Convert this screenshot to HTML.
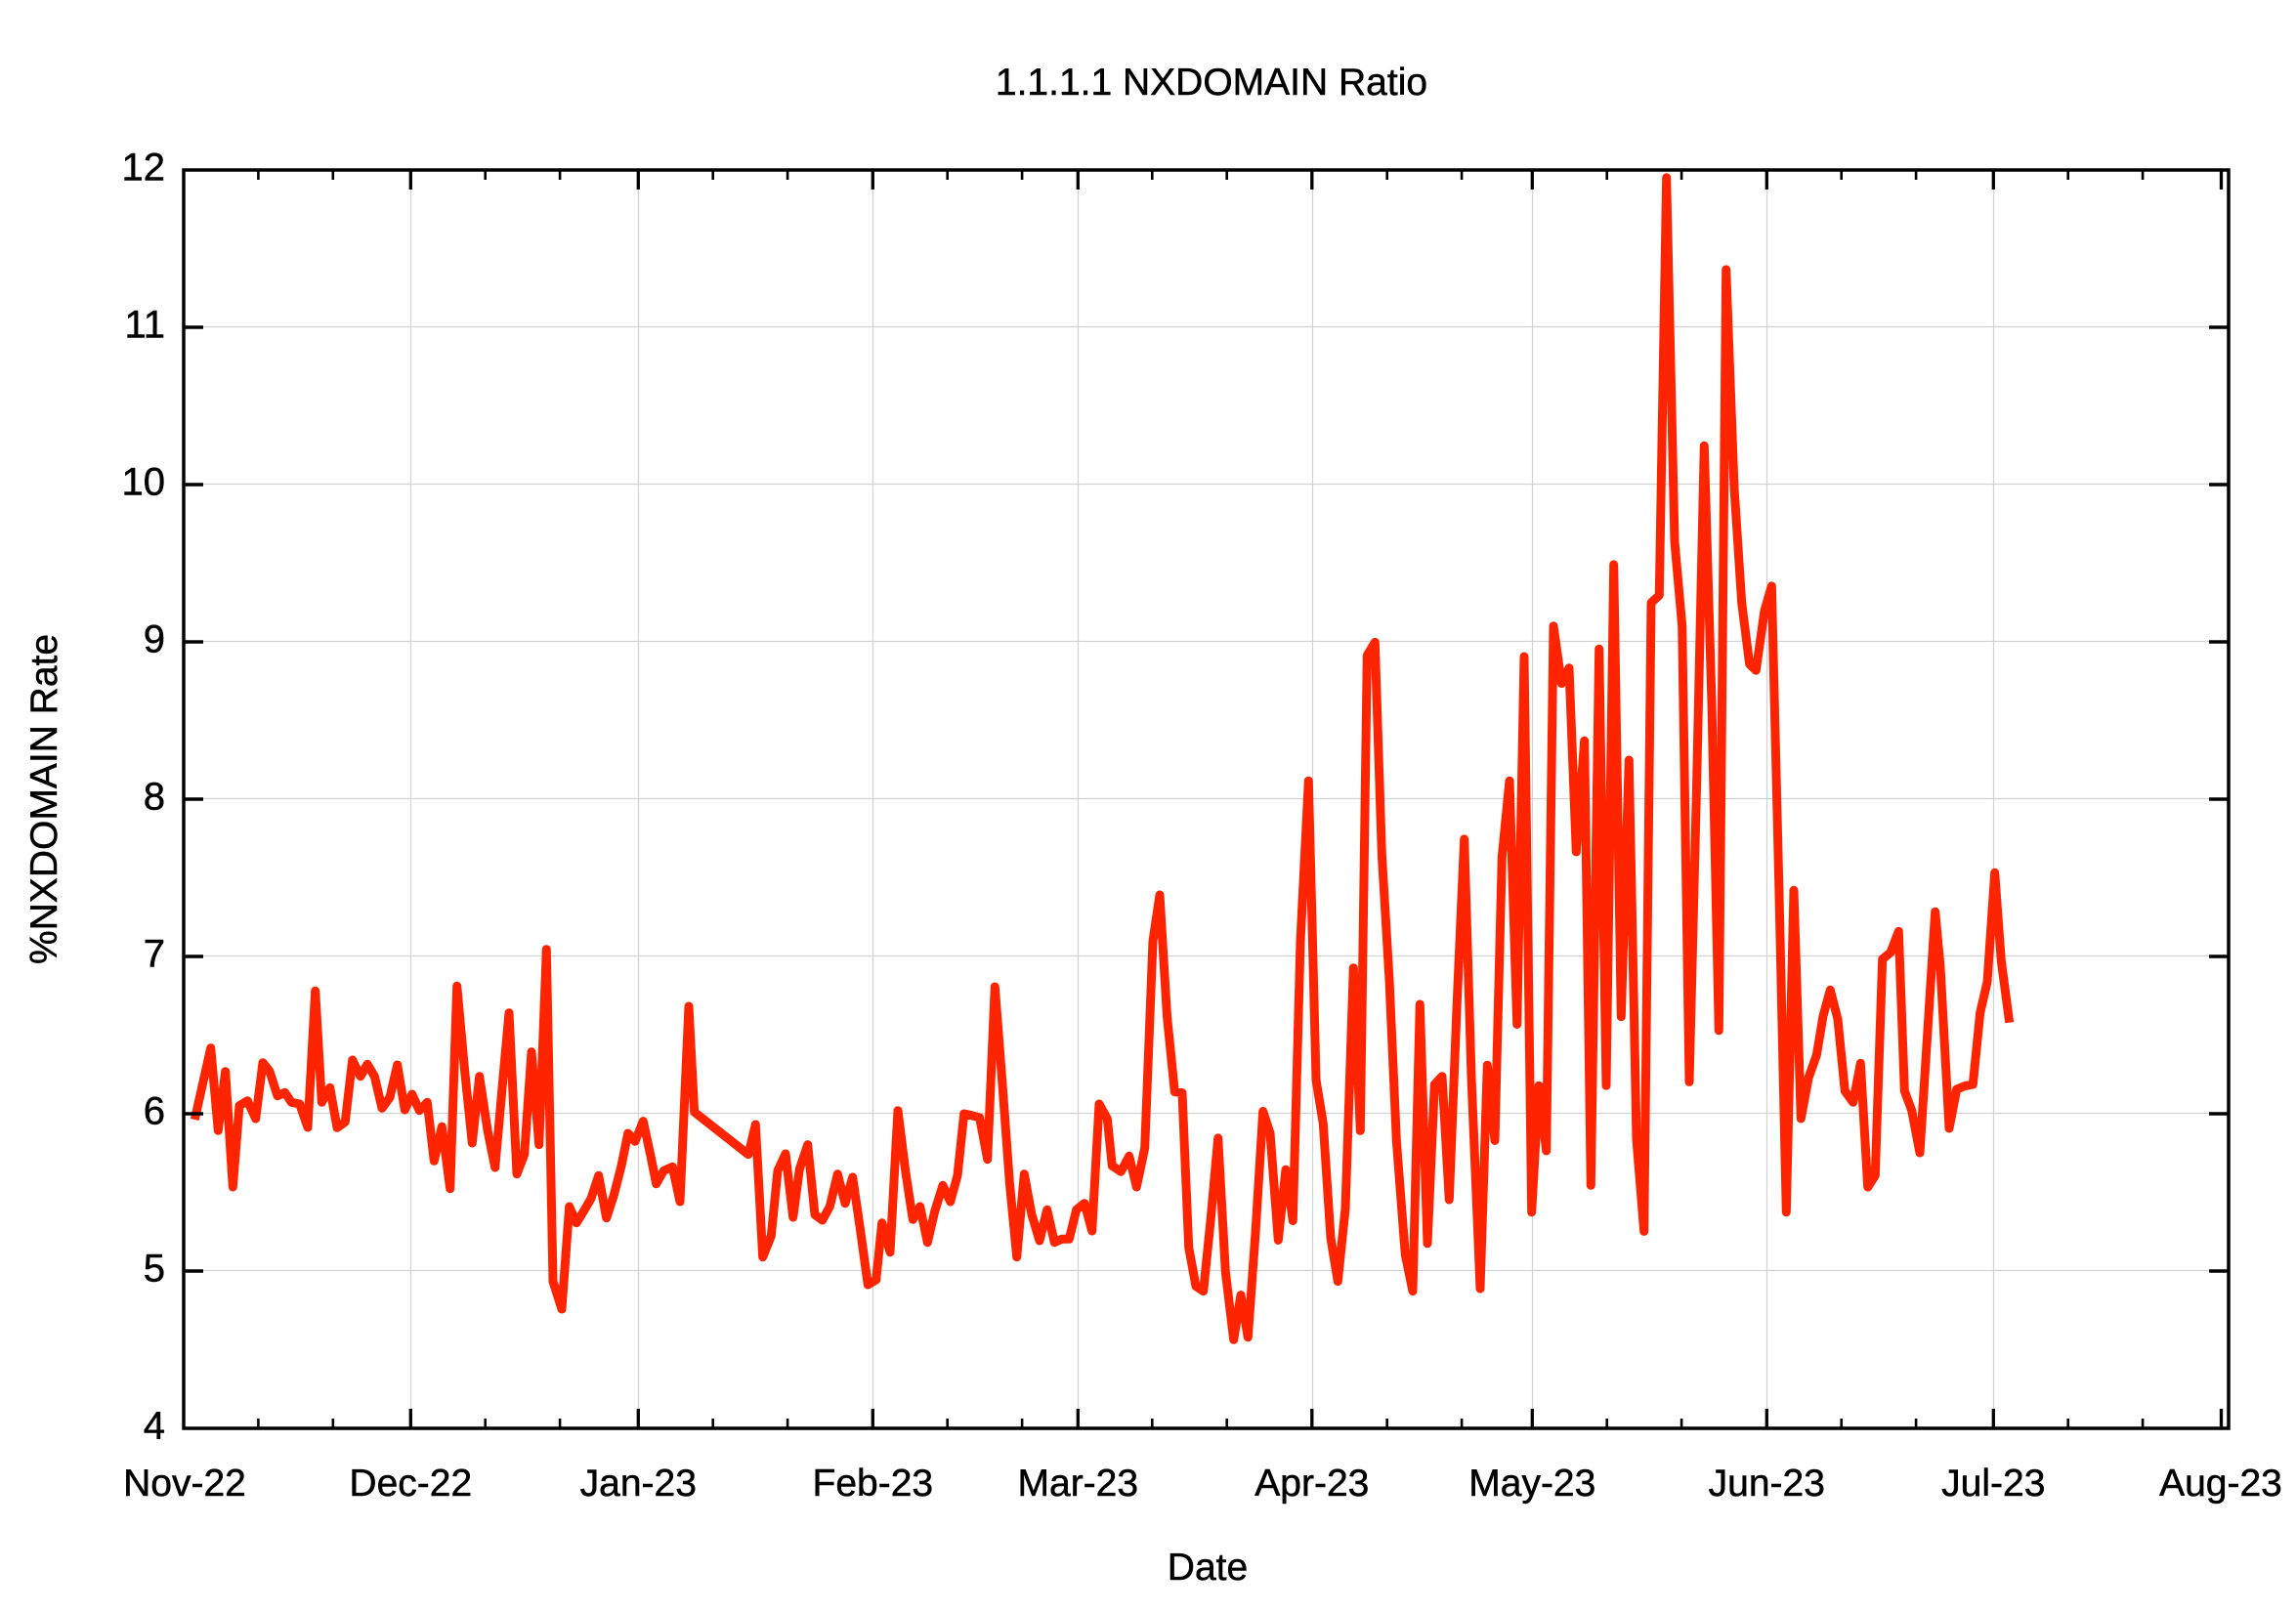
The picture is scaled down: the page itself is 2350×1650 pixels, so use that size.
<!DOCTYPE html>
<html>
<head>
<meta charset="utf-8">
<style>
  html, body { margin: 0; padding: 0; background: #ffffff; }
  svg { display: block; }
  text { font-family: "Liberation Sans", Arial, Helvetica, sans-serif; fill: #000; stroke: #000; stroke-width: 0.5px; }
</style>
</head>
<body>
<svg width="2350" height="1650" viewBox="0 0 2350 1650" xmlns="http://www.w3.org/2000/svg">
  <rect x="0" y="0" width="2350" height="1650" fill="#ffffff"/>

  <!-- grid -->
  <g stroke="#d2d2d2" stroke-width="1.2" fill="none">
    <line x1="188" y1="334.5" x2="2281" y2="334.5"/>
    <line x1="188" y1="495.5" x2="2281" y2="495.5"/>
    <line x1="188" y1="656.5" x2="2281" y2="656.5"/>
    <line x1="188" y1="817.5" x2="2281" y2="817.5"/>
    <line x1="188" y1="978.5" x2="2281" y2="978.5"/>
    <line x1="188" y1="1139.5" x2="2281" y2="1139.5"/>
    <line x1="188" y1="1300.5" x2="2281" y2="1300.5"/>
    <line x1="420.5" y1="174" x2="420.5" y2="1462"/>
    <line x1="653.5" y1="174" x2="653.5" y2="1462"/>
    <line x1="893.5" y1="174" x2="893.5" y2="1462"/>
    <line x1="1103.5" y1="174" x2="1103.5" y2="1462"/>
    <line x1="1343.5" y1="174" x2="1343.5" y2="1462"/>
    <line x1="1568.5" y1="174" x2="1568.5" y2="1462"/>
    <line x1="1808.5" y1="174" x2="1808.5" y2="1462"/>
    <line x1="2040.5" y1="174" x2="2040.5" y2="1462"/>
  </g>

  <!-- data -->
  <polyline fill="none" stroke="#ff2400" stroke-width="9" stroke-linejoin="round" stroke-linecap="butt"
    points="199.3,1146 215.7,1072.7 223.3,1157.3 230.7,1096.7 238.3,1215 245,1131.7 253.3,1126.7 261.7,1145 269,1087.7 276,1096.7 284,1121.7 291.7,1118.3 298.3,1128.3 306.7,1130 315,1154 322.7,1014.3 329.3,1128.3 337.7,1113.3 345,1154.3 353.3,1148.3 360.7,1085 369,1101.7 376,1089.3 383.3,1101.7 391,1134.3 399,1123.3 406.7,1090 414.3,1136 421.7,1120 429.3,1136.7 437.3,1128.3 444.3,1188.3 452.3,1153.3 460.7,1216.7 467.7,1009.3 475.7,1096.7 483.3,1170 490.7,1101.7 499,1156.7 506.7,1195 514,1113.3 521,1036.7 529,1201.7 536.7,1181.7 544,1076.7 551.7,1171.7 559.3,971.7 566,1311.7 575,1340 582.7,1235 590,1251.7 597.3,1240 605,1226.7 612.7,1203.3 620.7,1246.7 628.3,1223.3 636,1193.3 642.7,1160 650,1168.3 658.3,1147.7 666,1183.3 671.7,1211.7 679.3,1198.3 688.3,1194.3 696,1230 705,1030 710.7,1138.3 766,1181.7 773.3,1151 780.7,1286.7 789.3,1265 796,1198.3 804,1181 811.7,1246 818.3,1196.7 826.7,1171.7 834,1243.3 841.7,1249 849.3,1235 857.3,1201.7 865,1231.7 872.7,1205 880.7,1260 888.3,1315 896.7,1310 902.7,1251.7 911,1281.7 919,1136.7 926.7,1198.3 934.3,1248.3 941.7,1235 949.3,1271.7 956.7,1240 965,1213.3 972.7,1230 980,1203.3 986.7,1140 994.3,1141.7 1002.7,1144 1010.7,1186.7 1018.3,1010 1026,1110 1033.3,1210 1040.7,1286.7 1048.3,1201.7 1056,1243.3 1064,1270 1071.7,1238.3 1079.3,1271.7 1086.7,1268.3 1094.3,1268.3 1101.7,1238.3 1110,1231.7 1117.7,1260 1125,1130 1133.3,1145 1138.3,1193.3 1147.3,1199.3 1155.7,1183.3 1163.3,1215 1171.7,1175 1180,963.3 1187,916 1194.5,1040 1202.3,1117.6 1210,1118.6 1216.7,1276.8 1224,1316.6 1231.7,1321.6 1239.3,1247 1246.7,1164.9 1254.3,1301.7 1262.7,1371.3 1270,1325.6 1277.3,1368.8 1285,1261.9 1292.7,1137.5 1300,1159.9 1308.3,1269.4 1316,1197.2 1323.3,1249.5 1331,963.4 1339.3,799.2 1347,1105.2 1354.3,1150 1362,1266.9 1369.3,1311.6 1377,1237 1385.3,990.7 1392.3,1157.4 1399.3,670.8 1407.3,657.4 1414.3,873.8 1422,1003.2 1429.3,1167.4 1438.3,1284.3 1446,1321.6 1453.3,1028 1461,1272.8 1468.3,1110.1 1476,1101.7 1483.3,1228 1491,1033 1498.7,858.9 1506,1102.7 1515,1319.1 1522.3,1090.2 1530,1167.4 1537.3,877.3 1545,799.2 1552.7,1048.5 1560,672 1567.7,1240.8 1575,1111.3 1582.7,1178 1590,640.7 1598.3,699.5 1606,683.8 1613.3,872 1621.7,758.3 1628.3,1213.3 1636.7,664.2 1644,1111.3 1651.7,577.9 1659.3,1040.7 1667.3,778 1675,1166 1682.7,1260.4 1690,617 1698.3,609.3 1705.7,181.8 1714,554.4 1721.7,640.7 1729,1107.4 1736.7,797.6 1744.3,456.3 1752,719.1 1759.3,1054.9 1766.7,275.9 1775,499.5 1782.7,617.1 1790.7,679.9 1797.3,686.2 1806,625 1813.3,599.9 1821,915.2 1828.3,1240.8 1836,911.3 1843.3,1145 1851,1103.5 1859.3,1080 1866,1040 1873.3,1013.3 1881,1043.3 1888.3,1116.7 1896.7,1128.3 1904.3,1088.3 1911.7,1215 1919.3,1203.3 1926.7,981.7 1935,975 1943.3,953.3 1949.3,1116.7 1956.7,1136.7 1965,1180 1973.3,1050 1980.7,933.3 1986,990 1995,1155 2002.7,1115 2010.7,1111.7 2019.3,1110 2026.7,1036.7 2034,1005 2041.7,893.3 2048.3,983.3 2056.7,1046.7"/>

  <!-- ticks -->
  <g stroke="#000" stroke-width="3.5" fill="none">
    <line x1="188" y1="335" x2="208" y2="335"/><line x1="2261" y1="335" x2="2281" y2="335"/>
    <line x1="188" y1="496" x2="208" y2="496"/><line x1="2261" y1="496" x2="2281" y2="496"/>
    <line x1="188" y1="657" x2="208" y2="657"/><line x1="2261" y1="657" x2="2281" y2="657"/>
    <line x1="188" y1="818" x2="208" y2="818"/><line x1="2261" y1="818" x2="2281" y2="818"/>
    <line x1="188" y1="979" x2="208" y2="979"/><line x1="2261" y1="979" x2="2281" y2="979"/>
    <line x1="188" y1="1140" x2="208" y2="1140"/><line x1="2261" y1="1140" x2="2281" y2="1140"/>
    <line x1="188" y1="1301" x2="208" y2="1301"/><line x1="2261" y1="1301" x2="2281" y2="1301"/>
  </g>
  <g stroke="#000" stroke-width="3.3" fill="none">
    <line x1="420.3" y1="1462" x2="420.3" y2="1442"/><line x1="420.3" y1="174" x2="420.3" y2="194"/>
    <line x1="653.3" y1="1462" x2="653.3" y2="1442"/><line x1="653.3" y1="174" x2="653.3" y2="194"/>
    <line x1="893.3" y1="1462" x2="893.3" y2="1442"/><line x1="893.3" y1="174" x2="893.3" y2="194"/>
    <line x1="1103.3" y1="1462" x2="1103.3" y2="1442"/><line x1="1103.3" y1="174" x2="1103.3" y2="194"/>
    <line x1="1342.8" y1="1462" x2="1342.8" y2="1442"/><line x1="1342.8" y1="174" x2="1342.8" y2="194"/>
    <line x1="1568.3" y1="1462" x2="1568.3" y2="1442"/><line x1="1568.3" y1="174" x2="1568.3" y2="194"/>
    <line x1="1808.3" y1="1462" x2="1808.3" y2="1442"/><line x1="1808.3" y1="174" x2="1808.3" y2="194"/>
    <line x1="2040.3" y1="1462" x2="2040.3" y2="1442"/><line x1="2040.3" y1="174" x2="2040.3" y2="194"/>
    <line x1="2273.5" y1="1462" x2="2273.5" y2="1442"/><line x1="2273.5" y1="174" x2="2273.5" y2="194"/>
  </g>
  <g stroke="#000" stroke-width="2.6" fill="none">
    <line x1="264.4" y1="1462" x2="264.4" y2="1452"/><line x1="264.4" y1="174" x2="264.4" y2="184"/>
    <line x1="340.8" y1="1462" x2="340.8" y2="1452"/><line x1="340.8" y1="174" x2="340.8" y2="184"/>
    <line x1="496.7" y1="1462" x2="496.7" y2="1452"/><line x1="496.7" y1="174" x2="496.7" y2="184"/>
    <line x1="573.1" y1="1462" x2="573.1" y2="1452"/><line x1="573.1" y1="174" x2="573.1" y2="184"/>
    <line x1="729.7" y1="1462" x2="729.7" y2="1452"/><line x1="729.7" y1="174" x2="729.7" y2="184"/>
    <line x1="806.1" y1="1462" x2="806.1" y2="1452"/><line x1="806.1" y1="174" x2="806.1" y2="184"/>
    <line x1="969.7" y1="1462" x2="969.7" y2="1452"/><line x1="969.7" y1="174" x2="969.7" y2="184"/>
    <line x1="1046.1" y1="1462" x2="1046.1" y2="1452"/><line x1="1046.1" y1="174" x2="1046.1" y2="184"/>
    <line x1="1179.3" y1="1462" x2="1179.3" y2="1452"/><line x1="1179.3" y1="174" x2="1179.3" y2="184"/>
    <line x1="1255.7" y1="1462" x2="1255.7" y2="1452"/><line x1="1255.7" y1="174" x2="1255.7" y2="184"/>
    <line x1="1419.7" y1="1462" x2="1419.7" y2="1452"/><line x1="1419.7" y1="174" x2="1419.7" y2="184"/>
    <line x1="1496.1" y1="1462" x2="1496.1" y2="1452"/><line x1="1496.1" y1="174" x2="1496.1" y2="184"/>
    <line x1="1644.7" y1="1462" x2="1644.7" y2="1452"/><line x1="1644.7" y1="174" x2="1644.7" y2="184"/>
    <line x1="1721.1" y1="1462" x2="1721.1" y2="1452"/><line x1="1721.1" y1="174" x2="1721.1" y2="184"/>
    <line x1="1884.7" y1="1462" x2="1884.7" y2="1452"/><line x1="1884.7" y1="174" x2="1884.7" y2="184"/>
    <line x1="1961.1" y1="1462" x2="1961.1" y2="1452"/><line x1="1961.1" y1="174" x2="1961.1" y2="184"/>
    <line x1="2116.7" y1="1462" x2="2116.7" y2="1452"/><line x1="2116.7" y1="174" x2="2116.7" y2="184"/>
    <line x1="2193.1" y1="1462" x2="2193.1" y2="1452"/><line x1="2193.1" y1="174" x2="2193.1" y2="184"/>
  </g>

  <!-- frame -->
  <rect x="188" y="174" width="2093" height="1288" fill="none" stroke="#000" stroke-width="3.5"/>

  <!-- y tick labels -->
  <g font-size="40" text-anchor="end">
    <text x="169" y="184.5">12</text>
    <text x="169" y="345.5">11</text>
    <text x="169" y="506.5">10</text>
    <text x="169" y="667.5">9</text>
    <text x="169" y="828.5">8</text>
    <text x="169" y="989.5">7</text>
    <text x="169" y="1150.5">6</text>
    <text x="169" y="1311.5">5</text>
    <text x="169" y="1472.5">4</text>
  </g>

  <!-- x tick labels -->
  <g font-size="39" text-anchor="middle">
    <text x="189" y="1531">Nov-22</text>
    <text x="420.3" y="1531">Dec-22</text>
    <text x="653.3" y="1531">Jan-23</text>
    <text x="893.3" y="1531">Feb-23</text>
    <text x="1103.3" y="1531">Mar-23</text>
    <text x="1342.8" y="1531">Apr-23</text>
    <text x="1568.3" y="1531">May-23</text>
    <text x="1808.3" y="1531">Jun-23</text>
    <text x="2040.3" y="1531">Jul-23</text>
    <text x="2273" y="1531">Aug-23</text>
  </g>

  <!-- titles -->
  <text x="1240" y="97" font-size="39" text-anchor="middle">1.1.1.1 NXDOMAIN Ratio</text>
  <text x="1236" y="1617" font-size="39" text-anchor="middle">Date</text>
  <text transform="translate(58,818) rotate(-90)" font-size="39" text-anchor="middle">%NXDOMAIN Rate</text>
</svg>
</body>
</html>
